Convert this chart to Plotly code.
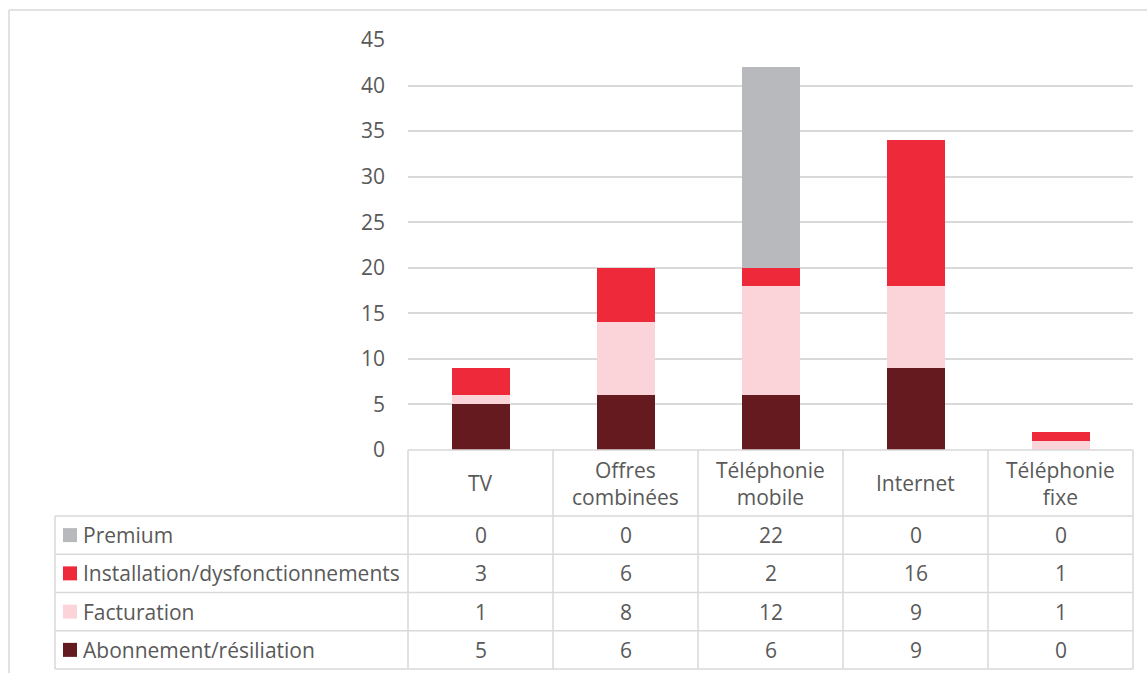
import plotly.graph_objects as go

categories = ["TV", "Offres combinées", "Téléphonie mobile", "Internet", "Téléphonie fixe"]
category_labels = ["TV", "Offres<br>combinées", "Téléphonie<br>mobile", "Internet", "Téléphonie<br>fixe"]
series_names = ["Abonnement/résiliation", "Facturation", "Installation/dysfonctionnements", "Premium"]
abonnement = [5, 6, 6, 9, 0]
facturation = [1, 8, 12, 9, 1]
installation = [3, 6, 2, 16, 1]
premium = [0, 0, 22, 0, 0]
series_values = [abonnement, facturation, installation, premium]
colors = ["#641A1F", "#FAD4D8", "#EE2A3A", "#B8B9BD"]
y_ticks = [0, 5, 10, 15, 20, 25, 30, 35, 40, 45]

W, H = 1147, 673
FONT = "Open Sans"
TXT = "#595959"
LINE = "#D9D9D9"
FS = 21

def px(x):
    return x / W

def py(y):
    return 1 - y / H

fig = go.Figure()
for name, vals, col in zip(series_names, series_values, colors):
    fig.add_trace(go.Bar(x=categories, y=vals, name=name, marker=dict(color=col, line=dict(width=0))))

x0, x1 = 408, 1133
y_top, y_zero = 40, 450
fig.update_layout(
    width=W, height=H, barmode="stack", bargap=0.6,
    margin=dict(l=0, r=0, t=0, b=0, autoexpand=False),
    paper_bgcolor="white", plot_bgcolor="white",
    showlegend=False,
    font=dict(family=FONT, size=FS, color=TXT),
    xaxis=dict(domain=[px(x0), px(x1)], showticklabels=False, showgrid=False,
               zeroline=False, showline=False, ticks="", automargin=False),
    yaxis=dict(domain=[py(y_zero), py(y_top)], range=[0, 45], tickvals=y_ticks,
               showgrid=True, gridcolor=LINE, gridwidth=1.5, zeroline=False,
               showline=False, ticks="", ticklabelstandoff=22, automargin=False,
               tickfont=dict(family=FONT, size=FS, color=TXT)),
)

shapes = []
def line(xa, ya, xb, yb, w=1.5, color=LINE):
    shapes.append(dict(type="line", xref="paper", yref="paper",
                       x0=px(xa), y0=py(ya), x1=px(xb), y1=py(yb),
                       line=dict(color=color, width=w)))

# outer border
line(9, 10, W, 10)
line(9, 10, 9, H)

ncat = len(categories)
colw = (x1 - x0) / ncat
col_x = [x0 + i * colw for i in range(ncat + 1)]
header_top, header_bot = 450, 516
row_h = (669 - 516) / 4
row_y = [header_bot + i * row_h for i in range(5)]
leg_left = 55

line(x0, header_top, x1, header_top)
for cx in col_x:
    line(cx, header_top, cx, row_y[-1])
line(leg_left, header_bot, leg_left, row_y[-1])
for ry in row_y:
    line(leg_left, ry, x1, ry)

annotations = []
for i, lab in enumerate(category_labels):
    annotations.append(dict(xref="paper", yref="paper", x=px(col_x[i] + colw / 2),
                            y=py((header_top + header_bot) / 2), text=lab, showarrow=False,
                            xanchor="center", yanchor="middle",
                            font=dict(family=FONT, size=FS, color=TXT)))

order = list(range(len(series_names)))[::-1]
for r, si in enumerate(order):
    cy = (row_y[r] + row_y[r + 1]) / 2
    shapes.append(dict(type="rect", xref="paper", yref="paper",
                       x0=px(63), x1=px(77), y0=py(cy - 7), y1=py(cy + 7),
                       fillcolor=colors[si], line=dict(width=0)))
    annotations.append(dict(xref="paper", yref="paper", x=px(81), y=py(cy),
                            text=series_names[si], showarrow=False,
                            xanchor="left", yanchor="middle",
                            font=dict(family=FONT, size=FS, color=TXT)))
    for c in range(ncat):
        annotations.append(dict(xref="paper", yref="paper", x=px(col_x[c] + colw / 2),
                                y=py(cy), text=str(series_values[si][c]), showarrow=False,
                                xanchor="center", yanchor="middle",
                                font=dict(family=FONT, size=FS, color=TXT)))

fig.update_layout(shapes=shapes, annotations=annotations)
fig.write_html("out.html")
